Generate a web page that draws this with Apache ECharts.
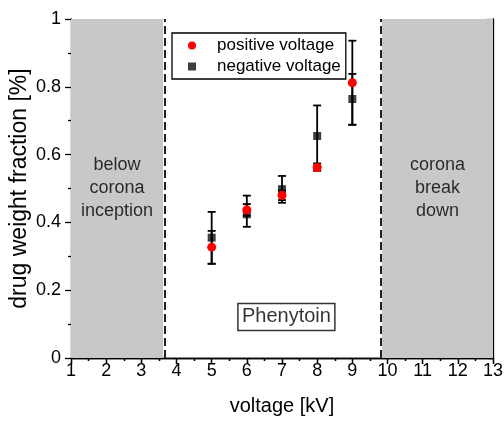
<!DOCTYPE html>
<html>
<head>
<meta charset="utf-8">
<script src="https://cdn.jsdelivr.net/npm/echarts@6/dist/echarts.min.js"></script>
<style>
  html, body { margin: 0; padding: 0; background: #fff; }
  #chart { width: 504px; height: 421px; }
</style>
</head>
<body>
<div id="chart"></div>
<script>
const voltages = [5, 6, 7, 8, 9];
const positive = [0.327, 0.437, 0.480, 0.562, 0.812];
const positiveLow = [0.278, 0.420, 0.466, 0.552, 0.688];
const positiveHigh = [0.375, 0.454, 0.494, 0.574, 0.936];
const negative = [0.355, 0.424, 0.498, 0.655, 0.764];
const negativeLow = [0.278, 0.387, 0.458, 0.565, 0.688];
const negativeHigh = [0.431, 0.479, 0.537, 0.745, 0.838];
const regionLabels = ["below\ncorona\ninception", "corona\nbreak\ndown"];
const drugName = "Phenytoin";

const FONT = "Liberation Sans, Arial, sans-serif";

const chart = echarts.init(document.getElementById("chart"));

function renderErrorBar(params, api) {
  const x = api.value(0);
  const lo = api.coord([x, api.value(1)]);
  const hi = api.coord([x, api.value(2)]);
  const half = 4;
  const style = { stroke: "#000", lineWidth: 1.8 };
  return {
    type: "group",
    children: [
      { type: "line", shape: { x1: lo[0], y1: lo[1], x2: hi[0], y2: hi[1] }, style },
      { type: "line", shape: { x1: lo[0] - half, y1: lo[1], x2: lo[0] + half, y2: lo[1] }, style },
      { type: "line", shape: { x1: hi[0] - half, y1: hi[1], x2: hi[0] + half, y2: hi[1] }, style }
    ]
  };
}

const axisLine = { show: true, lineStyle: { color: "#000", width: 1.3 } };

const option = {
  animation: false,
  textStyle: { fontFamily: FONT },
  grid: { left: 71, right: 11, top: 19, bottom: 63, containLabel: false, outerBoundsMode: "none" },
  legend: {
    orient: "vertical",
    left: 172,
    top: 33,
    data: ["positive voltage", "negative voltage"],
    itemWidth: 8,
    itemHeight: 8,
    itemGap: 4,
    padding: [4, 5, 4, 16],
    borderColor: "#000",
    borderWidth: 1.3,
    textStyle: { fontSize: 17, color: "#000", fontFamily: FONT, padding: [0, 0, 0, 16] }
  },
  xAxis: [
    {
      type: "value", min: 1, max: 13, interval: 1,
      axisLine, splitLine: { show: false },
      axisTick: { length: 6, lineStyle: { width: 1.3 } },
      minorTick: { show: true, splitNumber: 2, length: 3, lineStyle: { color: "#000", width: 1.3 } },
      axisLabel: { fontSize: 18, color: "#000", margin: 4, fontFamily: FONT },
      name: "voltage [kV]", nameLocation: "middle", nameGap: 38, nameMoveOverlap: false,
      nameTextStyle: { fontSize: 20, color: "#000", fontFamily: FONT }
    },
    {
      type: "value", position: "top", min: 1, max: 13, interval: 1,
      axisLine, splitLine: { show: false },
      axisTick: { inside: true, length: 6, lineStyle: { width: 1.3 } },
      minorTick: { show: true, splitNumber: 2, length: 3, lineStyle: { color: "#000", width: 1.3 } },
      axisLabel: { show: false }
    }
  ],
  yAxis: [
    {
      type: "value", min: 0, max: 1, interval: 0.2,
      axisLine, splitLine: { show: false },
      axisTick: { length: 6, lineStyle: { width: 1.3 } },
      minorTick: { show: true, splitNumber: 2, length: 3, lineStyle: { color: "#000", width: 1.3 } },
      axisLabel: { fontSize: 18, color: "#000", margin: 10, fontFamily: FONT },
      name: "drug weight fraction [%]", nameLocation: "middle", nameGap: 40, nameMoveOverlap: false,
      nameTextStyle: { fontSize: 23, color: "#000", fontFamily: FONT }
    },
    {
      type: "value", position: "right", min: 0, max: 1, interval: 0.2,
      axisLine, splitLine: { show: false },
      axisTick: { inside: true, length: 6, lineStyle: { width: 1.3 } },
      minorTick: { show: true, splitNumber: 2, length: 3, lineStyle: { color: "#000", width: 1.3 } },
      axisLabel: { show: false }
    }
  ],
  series: [
    {
      name: "annotations",
      type: "scatter",
      silent: true,
      symbolSize: 0,
      z: 1,
      data: [
        { value: [2.31, 0.5], name: regionLabels[0] },
        { value: [11.42, 0.5], name: regionLabels[1] },
        {
          value: [7.125, 0.121], name: drugName,
          label: { fontSize: 20, borderColor: "#000", borderWidth: 1.5, padding: [3, 4, 2, 4], lineHeight: 22 }
        }
      ],
      label: {
        show: true, position: "inside", formatter: (p) => p.name,
        fontSize: 18, lineHeight: 23, color: "#000", fontFamily: FONT, align: "center"
      },
      markArea: {
        silent: true,
        itemStyle: { color: "#c8c8c8", opacity: 1 },
        data: [
          [{ xAxis: 1 }, { xAxis: 3.62 }],
          [{ xAxis: 9.84 }, { xAxis: 13 }]
        ]
      },
      markLine: {
        silent: true,
        symbol: "none",
        label: { show: false },
        lineStyle: { color: "#222", width: 2, type: [8, 4] },
        data: [{ xAxis: 3.66 }, { xAxis: 9.81 }]
      }
    },
    {
      name: "negative voltage",
      type: "scatter",
      symbol: "rect",
      symbolSize: 8,
      z: 3,
      itemStyle: { color: "#404040", opacity: 1 },
      data: voltages.map((v, i) => [v, negative[i]])
    },
    {
      name: "error bars",
      type: "custom",
      z: 4,
      renderItem: renderErrorBar,
      data: voltages.map((v, i) => [v, positiveLow[i], positiveHigh[i]])
        .concat(voltages.map((v, i) => [v, negativeLow[i], negativeHigh[i]]))
    },
    {
      name: "positive voltage",
      type: "scatter",
      symbol: "circle",
      symbolSize: 9,
      z: 5,
      itemStyle: { color: "#ff0000", opacity: 1 },
      data: voltages.map((v, i) => [v, positive[i]])
    }
  ]
};

chart.setOption(option);
</script>
</body>
</html>
